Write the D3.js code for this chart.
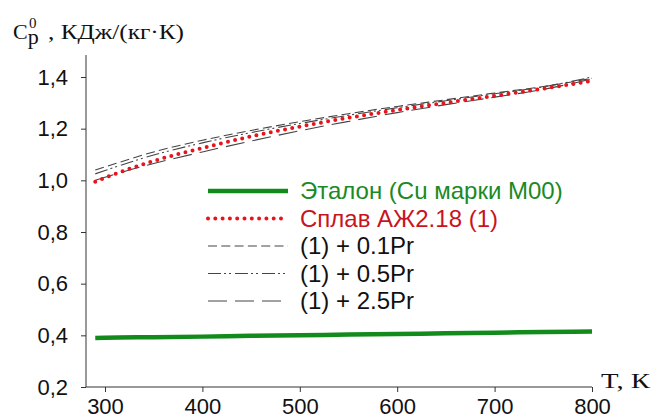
<!DOCTYPE html>
<html>
<head>
<meta charset="utf-8">
<script src="https://cdn.jsdelivr.net/npm/d3@7"></script>
<style>
  body { margin: 0; background: #fff; }
  svg { display: block; }
</style>
</head>
<body>
<svg id="chart" width="654" height="419"></svg>
<script>
// Data
const temps = [290, 300, 350, 400, 450, 500, 550, 600, 650, 700, 750, 800];
const etalon = [0.390, 0.391, 0.393, 0.395, 0.398, 0.400, 0.403, 0.405, 0.408, 0.410, 0.413, 0.415];
const splav  = [0.995, 1.010, 1.075, 1.125, 1.170, 1.208, 1.242, 1.272, 1.300, 1.327, 1.355, 1.385];
const pr01   = [1.040, 1.052, 1.110, 1.155, 1.193, 1.227, 1.258, 1.286, 1.312, 1.338, 1.363, 1.395];
const pr05   = [1.025, 1.038, 1.098, 1.145, 1.185, 1.220, 1.252, 1.281, 1.308, 1.335, 1.362, 1.400];
const pr25   = [1.000, 1.012, 1.065, 1.110, 1.152, 1.192, 1.228, 1.262, 1.293, 1.322, 1.352, 1.392];

const xTicks = [300, 400, 500, 600, 700, 800];
const yTicks = [0.2, 0.4, 0.6, 0.8, 1.0, 1.2, 1.4];

const series = [
  { name: 'Эталон (Cu марки М00)', values: etalon, color: '#138a1c', width: 4.5, dash: null, text: '#1a8a24' },
  { name: 'Сплав АЖ2.18 (1)', values: splav, color: '#e8141c', width: 4, dash: '0,7.3', cap: 'round', text: '#c8141c' },
  { name: '(1) + 0.1Pr', values: pr01, color: '#444', width: 1.1, dash: '9,4.3', text: '#111' },
  { name: '(1) + 0.5Pr', values: pr05, color: '#444', width: 1.1, dash: '13,3,2,3,2,4', text: '#111' },
  { name: '(1) + 2.5Pr', values: pr25, color: '#444', width: 1.1, dash: '19,8', text: '#111' }
];

const sans = 'Liberation Sans, Arial, sans-serif';
const serif = 'Liberation Serif, Times New Roman, serif';

const svg = d3.select('#chart');

const x = d3.scaleLinear().domain([280.5, 800]).range([86, 592]);
const y = d3.scaleLinear().domain([0.2, 1.4]).range([387, 77]);

// axes
const fmt = d => d.toFixed(1).replace('.', ',');

const xAxis = svg.append('g')
  .attr('transform', `translate(0,${y(0.2)})`)
  .call(d3.axisBottom(x).tickValues(xTicks).tickSize(5).tickSizeOuter(0).tickPadding(6));
xAxis.select('.domain').attr('d', `M${x.range()[0]},0H${x(800)}`);

const yAxis = svg.append('g')
  .attr('transform', `translate(${x.range()[0]},0)`)
  .call(d3.axisLeft(y).tickValues(yTicks).tickFormat(fmt).tickSize(5).tickSizeOuter(0).tickPadding(13));
yAxis.select('.domain').attr('d', `M0,${y(0.2)}V55`);

svg.selectAll('.domain, .tick line').attr('stroke', '#333').attr('stroke-width', 1);
svg.selectAll('.tick text')
  .attr('font-family', sans)
  .attr('font-size', 22)
  .attr('fill', '#111');

// lines
const line = d3.line()
  .x((d, i) => x(temps[i]))
  .y(d => y(d))
  .curve(d3.curveMonotoneX);

const drawOrder = [2, 3, 4, 1, 0];
drawOrder.forEach(k => {
  const s = series[k];
  svg.append('path')
    .datum(s.values)
    .attr('d', line)
    .attr('fill', 'none')
    .attr('stroke', s.color)
    .attr('stroke-width', s.width)
    .attr('stroke-dasharray', s.dash)
    .attr('stroke-linecap', s.cap || 'butt');
});

// legend
const legend = svg.append('g');
series.forEach((s, i) => {
  const ly = 191 + i * 27.5;
  legend.append('line')
    .attr('x1', 208).attr('x2', 288)
    .attr('y1', ly).attr('y2', ly)
    .attr('stroke', s.color)
    .attr('stroke-width', s.width)
    .attr('stroke-dasharray', s.dash)
    .attr('stroke-linecap', s.cap || 'butt');
  legend.append('text')
    .attr('x', 300).attr('y', ly + 8)
    .attr('font-family', sans)
    .attr('font-size', 24)
    .attr('fill', s.text)
    .text(s.name);
});

// axis titles (serif)
const yt = svg.append('text')
  .attr('x', 13).attr('y', 39)
  .attr('font-family', serif)
  .attr('font-size', 22)
  .attr('fill', '#111');
yt.append('tspan').text('C');
yt.append('tspan').attr('dy', 5).text('p');
yt.append('tspan').attr('x', 29).attr('dy', -16).attr('font-size', 15).text('0');
yt.append('tspan').attr('x', 48).attr('dy', 11)
  .attr('textLength', 136).attr('lengthAdjust', 'spacingAndGlyphs')
  .text(', КДж/(кг·К)');

svg.append('text')
  .attr('x', 601).attr('y', 388)
  .attr('font-family', serif)
  .attr('font-size', 21)
  .attr('textLength', 49).attr('lengthAdjust', 'spacingAndGlyphs')
  .attr('fill', '#111')
  .text('T, К');
</script>
</body>
</html>
